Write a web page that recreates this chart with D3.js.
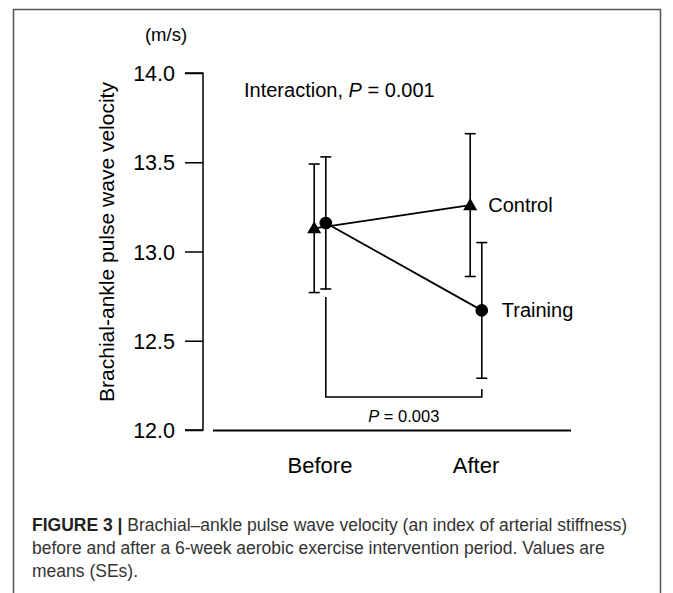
<!DOCTYPE html>
<html>
<head>
<meta charset="utf-8">
<script src="https://cdn.jsdelivr.net/npm/d3@7"></script>
<style>
  body { margin: 0; background: #fff; }
  svg { display: block; font-family: Arial, "Liberation Sans", sans-serif; }
</style>
</head>
<body>
<div id="chart"></div>
<script>
const WIDTH = 673, HEIGHT = 593;

// data (m/s, mean and SE)
const periods = ["Before", "After"];
const groups = ["Control", "Training"];
const controlMean = [13.13, 13.26];
const controlSE = [0.36, 0.40];
const trainingMean = [13.16, 12.67];
const trainingSE = [0.37, 0.38];
const yTicks = [12.0, 12.5, 13.0, 13.5, 14.0];
const captionLines = [
    "before and after a 6-week aerobic exercise intervention period. Values are",
    "means (SEs)."
];

const svg = d3.select("#chart").append("svg").attr("width", WIDTH).attr("height", HEIGHT)

// figure frame (open at bottom)
svg.append("path").attr("d", "M13.5,600 V9.5 H660.5 V600").attr("fill", "none")
    .attr("stroke", "#555").attr("stroke-width", 1.5)

const y = d3.scaleLinear().domain([12, 14]).range([430, 73])
const x = d3.scalePoint().domain(periods).range([320, 476])
const offset = {Control: -5.8, Training: 5.8}

// y axis
const yAxis = d3.axisLeft(y).tickValues(yTicks).tickFormat(d3.format(".1f")).tickSize(18).tickPadding(10)
const gy = svg.append("g").attr("transform", "translate(203,0)").call(yAxis)
gy.select(".domain").attr("d", "M-18," + y(14) + "H0V" + y(12) + "H-18").attr("stroke-width", 1.5)
gy.selectAll(".tick line").attr("stroke-width", 1.5)
gy.selectAll(".tick text").attr("font-size", 21.5).attr("font-family", "Arial, 'Liberation Sans', sans-serif").attr("fill", "#000").attr("dy", "0.35em")

// x baseline, separate from y axis
svg.append("line").attr("x1", 213).attr("x2", 571).attr("y1", y(12) + 0.5).attr("y2", y(12) + 0.5)
    .attr("stroke", "#000").attr("stroke-width", 1.8)

periods.forEach(p => {
    svg.append("text").attr("x", x(p)).attr("y", 473).attr("text-anchor", "middle")
        .attr("font-size", 22).text(p)
})

svg.append("text").attr("transform", "translate(114,242) rotate(-90)").attr("text-anchor", "middle")
    .attr("font-size", 21).text("Brachial-ankle pulse wave velocity")
svg.append("text").attr("x", 166).attr("y", 41).attr("text-anchor", "middle").attr("font-size", 18.5).text("(m/s)")

const inter = svg.append("text").attr("x", 244).attr("y", 97).attr("font-size", 20)
inter.append("tspan").text("Interaction, ")
inter.append("tspan").attr("font-style", "italic").text("P")
inter.append("tspan").text(" = 0.001")

const series = [
    {name: "Control", mean: controlMean, se: controlSE},
    {name: "Training", mean: trainingMean, se: trainingSE}
]

series.forEach(s => {
    const pts = periods.map((p, i) => ({x: x(p) + offset[s.name], m: s.mean[i], se: s.se[i]}))
    // error bars
    pts.forEach(d => {
        const eb = svg.append("g").attr("stroke", "#000").attr("stroke-width", 1.6)
        eb.append("line").attr("x1", d.x).attr("x2", d.x).attr("y1", y(d.m + d.se)).attr("y2", y(d.m - d.se))
        eb.append("line").attr("x1", d.x - 5.5).attr("x2", d.x + 5.5).attr("y1", y(d.m + d.se)).attr("y2", y(d.m + d.se))
        eb.append("line").attr("x1", d.x - 5.5).attr("x2", d.x + 5.5).attr("y1", y(d.m - d.se)).attr("y2", y(d.m - d.se))
    })
    svg.append("path").datum(pts).attr("fill", "none").attr("stroke", "#000").attr("stroke-width", 1.8)
        .attr("d", d3.line().x(d => d.x).y(d => y(d.m)))
    const sym = d3.symbol().type(s.name == "Control" ? d3.symbolTriangle : d3.symbolCircle).size(s.name == "Control" ? 85 : 125)
    svg.selectAll(null).data(pts).enter().append("path")
        .attr("transform", d => "translate(" + d.x + "," + (y(d.m) + (s.name == "Control" ? 1 : 0)) + ")")
        .attr("d", sym).attr("fill", "#000")
    const last = pts[pts.length - 1]
    svg.append("text").attr("x", last.x + (s.name == "Control" ? 18 : 20)).attr("y", y(last.m) + 7)
        .attr("font-size", 20).text(s.name)
})

// before vs after comparison bracket for training group
const tb = x("Before") + offset.Training, ta = x("After") + offset.Training
const by = 397
svg.append("path").attr("fill", "none").attr("stroke", "#000").attr("stroke-width", 1.6)
    .attr("d", "M" + tb + "," + (y(trainingMean[0] - trainingSE[0]) + 8) + "V" + by + "H" + ta + "V" + (by - 8))
const pt = svg.append("text").attr("x", (tb + ta) / 2).attr("y", 422).attr("text-anchor", "middle").attr("font-size", 16.5)
pt.append("tspan").attr("font-style", "italic").text("P")
pt.append("tspan").text(" = 0.003")

// caption
const cap = svg.append("g").attr("fill", "#333").attr("font-size", 17.5)
const l1 = cap.append("text").attr("x", 32).attr("y", 531)
l1.append("tspan").attr("font-weight", "bold").attr("fill", "#222").text("FIGURE 3 | ")
l1.append("tspan").text("Brachial\u2013ankle pulse wave velocity (an index of arterial stiffness)")
captionLines.forEach((t, i) => {
    cap.append("text").attr("x", 32).attr("y", 554 + i * 22.5).text(t)
})
</script>
</body>
</html>
